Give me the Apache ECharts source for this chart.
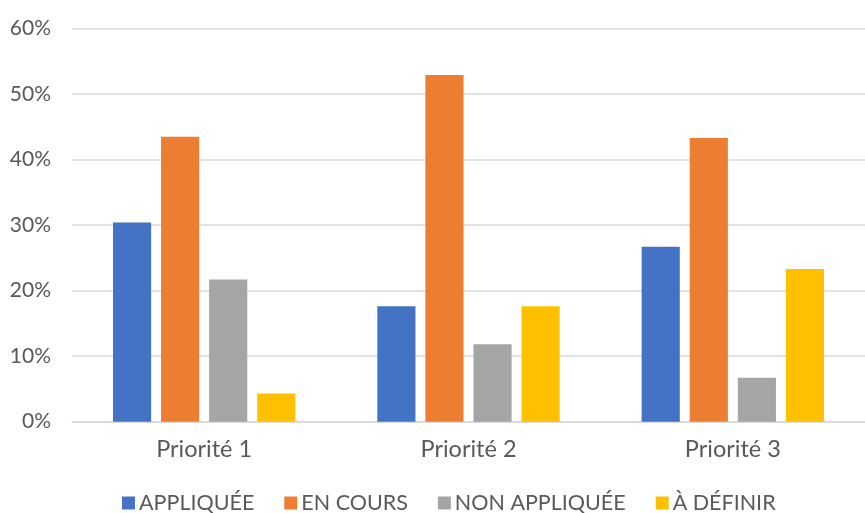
<!DOCTYPE html>
<html>
<head>
<meta charset="utf-8">
<script src="https://cdn.jsdelivr.net/npm/echarts@6/dist/echarts.min.js"></script>
<style>
  html, body { margin: 0; padding: 0; background: #fff; }
  #main { width: 865px; height: 513px; }
</style>
</head>
<body>
<div id="main"></div>
<script>
// catégories et séries (valeurs en %)
var categories = ['Priorité 1', 'Priorité 2', 'Priorité 3'];
var appliquee = [30.4, 17.6, 26.7];
var enCours = [43.5, 52.9, 43.3];
var nonAppliquee = [21.7, 11.8, 6.7];
var aDefinir = [4.3, 17.6, 23.3];
var seriesNames = ['APPLIQUÉE', 'EN COURS', 'NON APPLIQUÉE', 'À DÉFINIR'];
var colors = ['#4472C4', '#ED7D31', '#A5A5A5', '#FFC000'];

var font = 'Lato';
var myChart = echarts.init(document.getElementById('main'));

function bar(name, data, i) {
    return {
        name: name,
        type: 'bar',
        data: data,
        barGap: '26%',
        barCategoryGap: '31%',
        itemStyle: { color: colors[i] }
    };
}

myChart.setOption({
    animation: false,
    color: colors,
    grid: {
        left: 72,
        right: -12,
        top: 28.5,
        bottom: 91.3,
        containLabel: false
    },
    legend: {
        left: 117,
        top: 487,
        itemWidth: 13,
        itemHeight: 13,
        itemGap: 30,
        icon: 'rect',
        textStyle: {
            fontFamily: font,
            fontSize: 21.5,
            color: '#595959',
            padding: [0, 0, 0, -1]
        },
        data: seriesNames
    },
    xAxis: {
        type: 'category',
        data: categories,
        axisTick: { show: false },
        axisLine: { lineStyle: { color: '#d9d9d9', width: 1.5 } },
        axisLabel: {
            margin: 16,
            fontFamily: font,
            fontSize: 23.5,
            color: '#595959'
        }
    },
    yAxis: {
        type: 'value',
        min: 0,
        max: 60,
        interval: 10,
        axisLine: { show: false },
        axisTick: { show: false },
        splitLine: { lineStyle: { color: '#d9d9d9', width: 1.5 } },
        axisLabel: {
            margin: 21,
            fontFamily: font,
            fontSize: 21,
            color: '#595959',
            formatter: '{value}%'
        }
    },
    series: [
        bar(seriesNames[0], appliquee, 0),
        bar(seriesNames[1], enCours, 1),
        bar(seriesNames[2], nonAppliquee, 2),
        bar(seriesNames[3], aDefinir, 3)
    ]
});
</script>
</body>
</html>
